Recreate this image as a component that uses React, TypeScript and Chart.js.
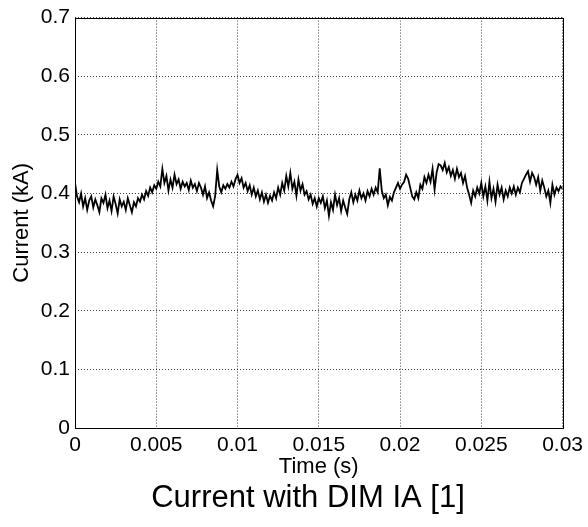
import React, { useEffect, useRef } from 'react';
import { Chart, registerables } from 'chart.js';

Chart.register(...registerables);

const SAMPLE_STEP_S = 0.000125;

const CURRENT_KA = [
  0.418, 0.395, 0.385, 0.400, 0.378, 0.392, 0.372, 0.388, 0.395, 0.376,
  0.390, 0.380, 0.368, 0.392, 0.384, 0.398, 0.375, 0.388, 0.370, 0.395,
  0.382, 0.366, 0.390, 0.378, 0.386, 0.372, 0.392, 0.380, 0.368, 0.385,
  0.378, 0.392, 0.386, 0.398, 0.390, 0.404, 0.396, 0.410, 0.402, 0.414,
  0.408, 0.420, 0.412, 0.442, 0.418, 0.430, 0.405, 0.424, 0.410, 0.432,
  0.416, 0.424, 0.408, 0.420, 0.412, 0.418, 0.406, 0.422, 0.410, 0.416,
  0.404, 0.418, 0.410, 0.398, 0.412, 0.392, 0.402, 0.388, 0.378, 0.396,
  0.440, 0.412, 0.402, 0.414, 0.408, 0.416, 0.410, 0.420, 0.412, 0.424,
  0.432, 0.418, 0.426, 0.410, 0.418, 0.404, 0.414, 0.398, 0.410, 0.395,
  0.405, 0.390, 0.402, 0.386, 0.398, 0.384, 0.396, 0.388, 0.402, 0.392,
  0.410, 0.398, 0.418, 0.405, 0.430, 0.412, 0.435, 0.408, 0.420, 0.396,
  0.424, 0.405, 0.416, 0.398, 0.404, 0.390, 0.398, 0.382, 0.392, 0.378,
  0.392, 0.384, 0.395, 0.375, 0.388, 0.362, 0.385, 0.372, 0.398, 0.380,
  0.392, 0.370, 0.388, 0.376, 0.365, 0.390, 0.402, 0.385, 0.398, 0.388,
  0.405, 0.392, 0.400, 0.388, 0.404, 0.395, 0.408, 0.398, 0.410, 0.402,
  0.443, 0.405, 0.392, 0.398, 0.380, 0.394, 0.388, 0.402, 0.410, 0.418,
  0.408, 0.415, 0.420, 0.432, 0.425, 0.410, 0.395, 0.390, 0.402, 0.392,
  0.415, 0.408, 0.428, 0.418, 0.432, 0.420, 0.442, 0.407, 0.436, 0.450,
  0.448, 0.440, 0.452, 0.436, 0.445, 0.430, 0.440, 0.425, 0.442, 0.428,
  0.435, 0.418, 0.430, 0.410, 0.398, 0.384, 0.405, 0.395, 0.410, 0.400,
  0.418, 0.395, 0.412, 0.388, 0.420, 0.392, 0.408, 0.386, 0.415, 0.398,
  0.410, 0.390, 0.405, 0.395, 0.410, 0.400, 0.412, 0.398, 0.410, 0.402,
  0.418, 0.425, 0.432, 0.438, 0.420, 0.435, 0.428, 0.415, 0.428, 0.405,
  0.422, 0.410, 0.395, 0.405, 0.384, 0.415, 0.398, 0.410, 0.404, 0.412,
  0.408,
];

const X_TICKS = [0, 0.005, 0.01, 0.015, 0.02, 0.025, 0.03];
const X_TICK_LABELS = ['0', '0.005', '0.01', '0.015', '0.02', '0.025', '0.03'];
const Y_TICKS = [0, 0.1, 0.2, 0.3, 0.4, 0.5, 0.6, 0.7];
const Y_TICK_LABELS = ['0', '0.1', '0.2', '0.3', '0.4', '0.5', '0.6', '0.7'];

const X_TITLE = 'Time (s)';
const Y_TITLE = 'Current (kA)';
const CAPTION = 'Current with DIM IA [1]';

const FONT = '"Liberation Sans", Arial, Helvetica, sans-serif';

const framePlugin = {
  id: 'frameAndCaption',
  afterDraw(chart: any) {
    const { ctx, chartArea } = chart;
    const l = Math.round(chartArea.left);
    const t = Math.round(chartArea.top);
    const r = Math.round(chartArea.right);
    const b = Math.round(chartArea.bottom);
    ctx.save();
    ctx.strokeStyle = '#000';
    ctx.lineWidth = 1;
    ctx.setLineDash([]);
    ctx.strokeRect(l + 0.5, t + 0.5, r - l, b - t);
    ctx.fillStyle = '#000';
    ctx.font = `31px ${FONT}`;
    ctx.textAlign = 'center';
    ctx.textBaseline = 'middle';
    ctx.fillText(CAPTION, 308, 498);
    ctx.restore();
  },
};

export default function App() {
  const canvasRef = useRef<HTMLCanvasElement | null>(null);

  useEffect(() => {
    const canvas = canvasRef.current;
    if (!canvas) return;
    const points = CURRENT_KA.map((v, i) => ({ x: i * SAMPLE_STEP_S, y: v }));
    const gridCommon = {
      color: 'rgba(0,0,0,0.75)',
      lineWidth: 1,
      drawTicks: false,
    };
    const chart = new Chart(canvas, {
      type: 'line',
      data: {
        datasets: [
          {
            data: points,
            borderColor: '#000',
            borderWidth: 1.8,
            pointRadius: 0,
            tension: 0,
            fill: false,
          },
        ],
      },
      plugins: [framePlugin],
      options: {
        animation: false,
        responsive: false,
        devicePixelRatio: 1,
        layout: { padding: { left: 0, right: 22, top: 14, bottom: 0 } },
        plugins: {
          legend: { display: false },
          tooltip: { enabled: false },
          title: { display: false },
        },
        scales: {
          x: {
            type: 'linear',
            min: 0,
            max: 0.03,
            afterBuildTicks: (scale: any) => {
              scale.ticks = X_TICKS.map((v) => ({ value: v }));
            },
            afterFit: (scale: any) => {
              scale.height = 99;
            },
            ticks: {
              autoSkip: false,
              maxRotation: 0,
              padding: 5,
              color: '#000',
              font: { family: FONT, size: 21 },
              callback: (_v: any, i: number) => X_TICK_LABELS[i],
            },
            grid: { ...gridCommon } as any,
            border: { display: false, dash: [1, 2] },
            title: {
              display: true,
              text: X_TITLE,
              color: '#000',
              font: { family: FONT, size: 22 },
              padding: { top: 0, bottom: 47 },
            },
          },
          y: {
            type: 'linear',
            min: 0,
            max: 0.7,
            afterBuildTicks: (scale: any) => {
              scale.ticks = Y_TICKS.map((v) => ({ value: v }));
            },
            afterFit: (scale: any) => {
              scale.width = 75;
            },
            ticks: {
              autoSkip: false,
              padding: 5,
              color: '#000',
              font: { family: FONT, size: 21 },
              callback: (_v: any, i: number) => Y_TICK_LABELS[i],
            },
            grid: { ...gridCommon } as any,
            border: { display: false, dash: [1, 2] },
            title: {
              display: true,
              text: Y_TITLE,
              color: '#000',
              font: { family: FONT, size: 22 },
              padding: { top: 9, bottom: 0 },
            },
          },
        },
      } as any,
    });
    return () => chart.destroy();
  }, []);

  return (
    <div style={{ position: 'absolute', left: 0, top: 0, width: 588, height: 527, background: '#fff' }}>
      <canvas ref={canvasRef} width={588} height={527} style={{ display: 'block', width: 588, height: 527 }} />
    </div>
  );
}
